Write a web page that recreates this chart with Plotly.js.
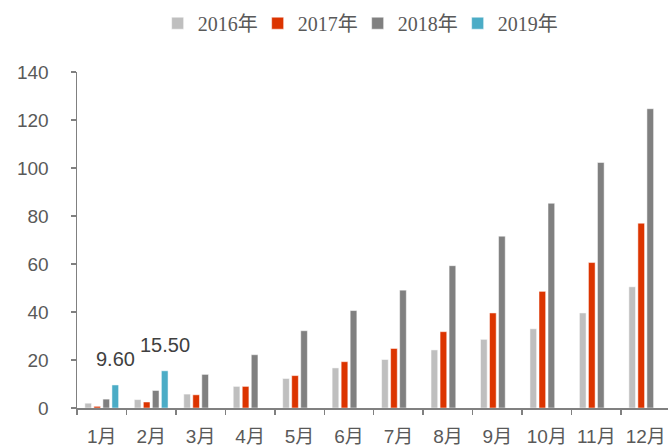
<!DOCTYPE html>
<html>
<head>
<meta charset="utf-8">
<script src="https://cdn.plot.ly/plotly-3.0.1.min.js"></script>
<style>html,body{margin:0;padding:0;background:#fff;}#chart{width:668px;height:446px;}</style>
</head>
<body>
<div id="chart"></div>
<script>
const categories = ['1月','2月','3月','4月','5月','6月','7月','8月','9月','10月','11月','12月'];
const seriesNames = ['2016年','2017年','2018年','2019年'];
const values2016 = [2.0, 3.5, 5.8, 9.0, 12.3, 16.7, 20.2, 24.2, 28.6, 33.0, 39.6, 50.5];
const values2017 = [0.7, 2.5, 5.5, 9.0, 13.5, 19.3, 24.8, 31.8, 39.6, 48.6, 60.6, 77.0];
const values2018 = [3.7, 7.3, 14.0, 22.2, 32.2, 40.6, 49.1, 59.3, 71.6, 85.3, 102.3, 124.7];
const values2019 = [9.6, 15.5, null, null, null, null, null, null, null, null, null, null];
const colors = ['#BFBFBF', '#DC3400', '#808080', '#4BACC6'];

const allValues = [values2016, values2017, values2018, values2019];
const traces = allValues.map((vals, i) => ({
  type: 'bar',
  name: seriesNames[i],
  x: categories,
  y: vals,
  marker: {color: colors[i], line: {color: '#ffffff', width: 0.5}},
  hoverinfo: 'x+y+name'
}));

const labelFont = {family: 'Liberation Sans, Arial, sans-serif', size: 20, color: '#404040'};
const annotations = values2019
  .map((v, i) => v == null ? null : {
    x: categories[i], y: v, xref: 'x', yref: 'y',
    text: v.toFixed(2), showarrow: false,
    xshift: 14, yshift: 13, yanchor: 'bottom',
    font: labelFont
  })
  .filter(a => a);

const tickFont = {family: 'Liberation Sans, Arial, "Noto Sans CJK SC", sans-serif', size: 19, color: '#595959'};

const layout = {
  width: 668, height: 446,
  margin: {l: 77, r: 0, t: 72, b: 38, autoexpand: false},
  paper_bgcolor: '#ffffff', plot_bgcolor: '#ffffff',
  barmode: 'group',
  bargap: 0.27,
  bargroupgap: 0.26,
  showlegend: true,
  legend: {
    orientation: 'h',
    xref: 'container', x: 0.236, xanchor: 'left',
    yref: 'container', y: 0.948, yanchor: 'middle',
    entrywidth: 55, entrywidthmode: 'pixels',
    font: {family: 'Liberation Serif, "Times New Roman", "Noto Sans CJK SC", serif', size: 20, color: '#595959'},
    itemwidth: 30, traceorder: 'normal'
  },
  xaxis: {
    type: 'category',
    range: [-0.5, 11.45],
    showline: true, linecolor: '#808080', linewidth: 1.5,
    ticks: 'outside', tickson: 'boundaries', ticklen: 5, tickcolor: '#808080', tickwidth: 1.5,
    showgrid: false, zeroline: false,
    tickangle: 0,
    tickfont: tickFont,
    ticklabelstandoff: 11
  },
  yaxis: {
    range: [0, 140],
    tickvals: [0, 20, 40, 60, 80, 100, 120, 140],
    showline: true, linecolor: '#808080', linewidth: 1.5,
    ticks: 'outside', ticklen: 5, tickcolor: '#808080', tickwidth: 1.5,
    showgrid: false, zeroline: false,
    tickfont: tickFont,
    ticklabelstandoff: 18
  },
  annotations: annotations
};

Plotly.newPlot('chart', traces, layout, {displayModeBar: false, staticPlot: true});
</script>
</body>
</html>
